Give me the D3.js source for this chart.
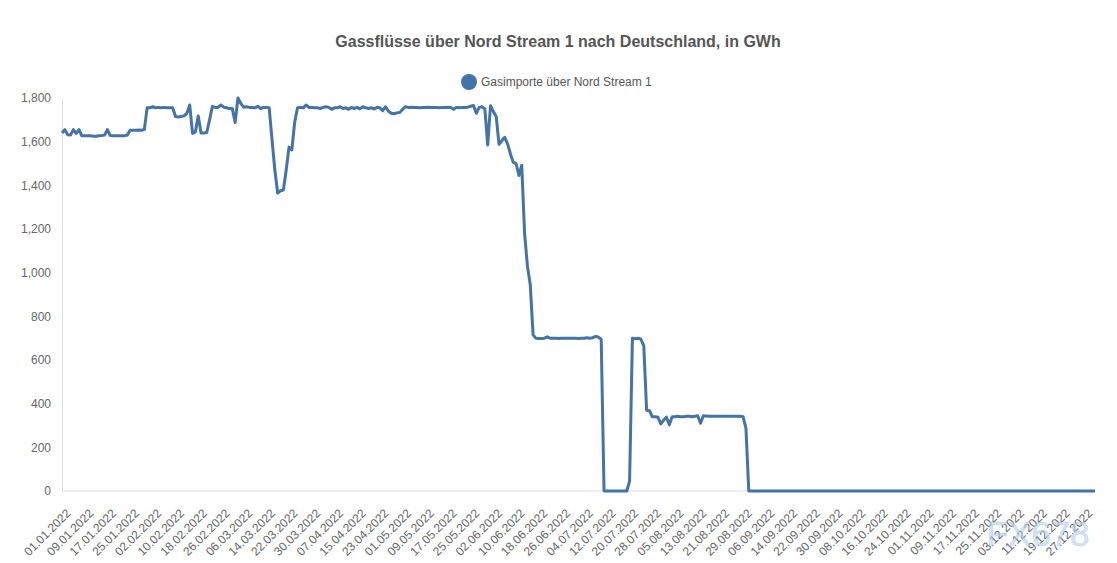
<!DOCTYPE html>
<html>
<head>
<meta charset="utf-8">
<script src="https://cdn.jsdelivr.net/npm/d3@7"></script>
<style>
  body { margin: 0; background: #fff; }
  svg { font-family: "Liberation Sans", Arial, sans-serif; }
</style>
</head>
<body>
<svg id="chart" width="1117" height="563"></svg>
<script>
// daily values (GWh), one array per month
const valuesJan = [1640,1655,1632,1630,1655,1638,1655,1627,1627,1627,1627,1625,1625,1627,1628,1630,1655,1628,1627,1627,1627,1627,1627,1630,1652,1652,1652,1653,1652,1655,1755];
const valuesFeb = [1755,1760,1755,1757,1755,1757,1755,1755,1755,1715,1713,1715,1718,1730,1768,1638,1645,1718,1640,1640,1642,1700,1762,1757,1757,1768,1758,1755];
const valuesMar = [1752,1752,1688,1800,1775,1758,1760,1757,1757,1755,1762,1752,1757,1757,1755,1610,1470,1365,1375,1378,1470,1575,1562,1690,1755,1757,1755,1768,1757,1757,1755];
const valuesApr = [1755,1752,1757,1760,1757,1748,1755,1755,1760,1752,1755,1748,1757,1752,1757,1750,1760,1755,1752,1755,1750,1758,1755,1742,1760,1740,1730,1728,1732,1733];
const valuesMay = [1748,1760,1757,1758,1757,1757,1755,1757,1757,1758,1757,1757,1757,1755,1757,1757,1758,1757,1748,1757,1755,1757,1757,1758,1762,1766,1730,1757,1760,1750,1585];
const valuesJun = [1765,1738,1715,1588,1605,1620,1590,1545,1505,1500,1445,1492,1180,1030,945,715,700,698,698,700,706,700,700,700,698,700,700,700,700,700];
const valuesJul = [700,698,700,700,702,700,702,708,705,695,0,0,0,0,0,0,0,0,0,45,700,697,700,695,665,370,368,340,340,338,307];
const valuesAug = [325,338,303,340,340,342,340,340,342,342,340,342,345,310,345,343,342,342,342,342,342,342,342,342,342,342,342,342,340,288,0];
const valuesSep = [0,0,0,0,0,0,0,0,0,0,0,0,0,0,0,0,0,0,0,0,0,0,0,0,0,0,0,0,0,0];
const valuesOct = [0,0,0,0,0,0,0,0,0,0,0,0,0,0,0,0,0,0,0,0,0,0,0,0,0,0,0,0,0,0,0];
const valuesNov = [0,0,0,0,0,0,0,0,0,0,0,0,0,0,0,0,0,0,0,0,0,0,0,0,0,0,0,0,0,0];
const valuesDec = [0,0,0,0,0,0,0,0,0,0,0,0,0,0,0,0,0,0,0,0,0,0,0,0,0,0,0,0,0,0,0];

const yTicks = [0, 200, 400, 600, 800, 1000, 1200, 1400, 1600, 1800];
const labelEvery = 8;

const chartTitle = "Gassflüsse über Nord Stream 1 nach Deutschland, in GWh";
const seriesName = "Gasimporte über Nord Stream 1";

const values = [].concat(valuesJan, valuesFeb, valuesMar, valuesApr, valuesMay, valuesJun,
  valuesJul, valuesAug, valuesSep, valuesOct, valuesNov, valuesDec);
const fmtDate = d3.timeFormat("%d.%m.%Y");
const days = d3.timeDay.range(new Date(2022, 0, 1), new Date(2023, 0, 1)).map(fmtDate);
const data = days.map((d, i) => ({ day: d, value: values[i] }));

const svg = d3.select("#chart");
const margins = { top: 98, left: 62, right: 22, bottom: 72 };
const width = 1117, height = 563;
const lineColour = "#4473a7";

const xScale = d3.scalePoint()
  .domain(days)
  .range([margins.left, width - margins.right]);
const yScale = d3.scaleLinear()
  .domain([0, 1800])
  .range([height - margins.bottom, margins.top]);

// title
svg.append("text")
  .attr("x", 558).attr("y", 47)
  .attr("text-anchor", "middle")
  .attr("font-size", 16).attr("font-weight", "bold")
  .attr("fill", "#555")
  .text(chartTitle);

// legend
svg.append("circle").attr("cx", 469).attr("cy", 82).attr("r", 8).attr("fill", lineColour);
svg.append("text")
  .attr("x", 481).attr("y", 86)
  .attr("font-size", 12).attr("fill", "#555")
  .text(seriesName);

// y axis
const yAxis = svg.append("g")
  .attr("transform", "translate(" + margins.left + ",0)")
  .call(d3.axisLeft(yScale).tickValues(yTicks).tickFormat(d3.format(",")).tickSize(0).tickPadding(11));
yAxis.select(".domain").attr("stroke", "#ddd");
yAxis.selectAll("text").attr("font-size", 12).attr("fill", "#666").attr("font-family", "Liberation Sans, Arial, sans-serif");

// x axis
const xAxis = svg.append("g")
  .attr("transform", "translate(0," + (height - margins.bottom) + ")")
  .call(d3.axisBottom(xScale)
    .tickValues(days.filter((d, i) => i % labelEvery === 0))
    .tickSize(0).tickSizeOuter(0));
xAxis.select(".domain").attr("stroke", "#ddd").attr("d", "M" + margins.left + ",0H" + (width - margins.right));
xAxis.selectAll("text")
  .attr("font-size", 12).attr("fill", "#666")
  .attr("font-family", "Liberation Sans, Arial, sans-serif")
  .attr("text-anchor", "end")
  .attr("dy", null).attr("y", null)
  .attr("transform", "translate(9,23) rotate(-45)");

// line
const line = d3.line()
  .x(d => xScale(d.day))
  .y(d => yScale(d.value));
svg.append("path")
  .datum(data)
  .attr("fill", "none")
  .attr("stroke", lineColour)
  .attr("stroke-width", 3)
  .attr("stroke-linejoin", "round")
  .attr("d", line);

// watermark
svg.append("text")
  .attr("x", 1038).attr("y", 546)
  .attr("text-anchor", "middle")
  .attr("font-size", 35)
  .attr("fill", "#b9d3ee").attr("fill-opacity", 0.6)
  .attr("stroke", "#8fb3d9").attr("stroke-opacity", 0.3)
  .text("FX678");
</script>
</body>
</html>
